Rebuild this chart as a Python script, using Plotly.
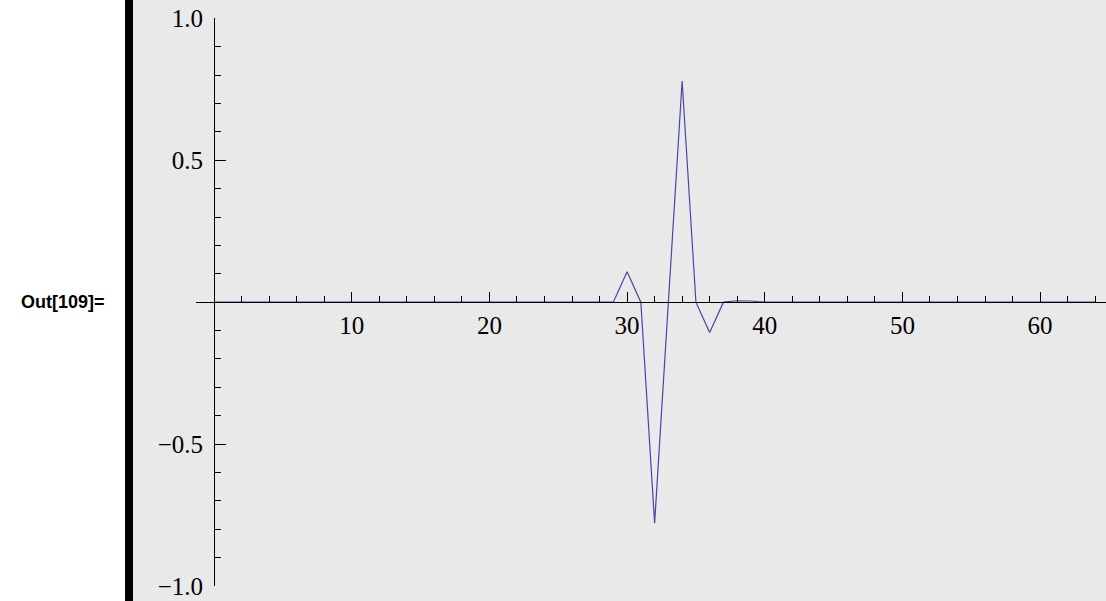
import plotly.graph_objects as go

# Data: sample index and value (wavelet-like coefficients)
x_vals = list(range(0, 65))
y_vals = [0.0] * 65
nonzero = {29: 0.0, 30: 0.107, 31: 0.0, 32: -0.779, 33: 0.0, 34: 0.779,
           35: 0.0, 36: -0.107, 37: 0.0, 38: 0.005, 39: 0.004, 40: 0.0}
for k, v in nonzero.items():
    y_vals[k] = v

x_tick_vals = [10, 20, 30, 40, 50, 60]
x_tick_text = ["10", "20", "30", "40", "50", "60"]
y_tick_vals = [-1.0, -0.5, 0.5, 1.0]
y_tick_text = ["\u22121.0", "\u22120.5", "0.5", "1.0"]

W, H = 1106, 601
# pixel geometry
x0_px = 214.1          # pixel of x = 0
x_scale = 13.766       # px per unit
xdom_left_px = 196
y_top_px, y_bot_px = 18.3, 586.0
y_zero_px = (y_top_px + y_bot_px) / 2

x_range = [(xdom_left_px - x0_px) / x_scale, (W - x0_px) / x_scale]

fig = go.Figure()
fig.add_trace(go.Scatter(
    x=x_vals, y=y_vals, mode="lines",
    line=dict(color="#4646a8", width=1.2),
    hoverinfo="skip", showlegend=False,
))

tick_font = dict(family="Liberation Serif, Times New Roman, serif", size=25, color="black")

fig.update_layout(
    width=W, height=H,
    margin=dict(l=0, r=0, t=0, b=0, pad=0),
    paper_bgcolor="white",
    plot_bgcolor="rgba(0,0,0,0)",
    showlegend=False,
    xaxis=dict(
        domain=[xdom_left_px / W, 1.0],
        range=x_range,
        anchor="free",
        position=(H - y_zero_px) / H,
        automargin=False,
        showgrid=False, zeroline=False,
        showline=True, linecolor="black", linewidth=1,
        ticks="inside", ticklen=10, tickwidth=1, tickcolor="black",
        tickvals=x_tick_vals, ticktext=x_tick_text,
        tickfont=tick_font,
        ticklabelstandoff=1,
        minor=dict(ticks="inside", ticklen=6, tickwidth=1, tickcolor="black",
                   tick0=0, dtick=2, showgrid=False),
        fixedrange=True,
    ),
    yaxis=dict(
        domain=[(H - y_bot_px) / H, (H - y_top_px) / H],
        range=[-1, 1],
        anchor="free",
        position=x0_px / W,
        automargin=False,
        showgrid=False, zeroline=False,
        showline=True, linecolor="black", linewidth=1,
        ticks="inside", ticklen=11, tickwidth=1, tickcolor="black",
        tickvals=y_tick_vals, ticktext=y_tick_text,
        tickfont=tick_font,
        ticklabelstandoff=6,
        minor=dict(ticks="inside", ticklen=6, tickwidth=1, tickcolor="black",
                   tick0=0, dtick=0.1, showgrid=False),
        fixedrange=True,
    ),
    shapes=[
        dict(type="rect", xref="paper", yref="paper",
             x0=133 / W, x1=1.0, y0=0, y1=1,
             fillcolor="#e9e9e9", line=dict(width=0), layer="below"),
        dict(type="rect", xref="paper", yref="paper",
             x0=125 / W, x1=133 / W, y0=0, y1=1,
             fillcolor="black", line=dict(width=0), layer="below"),
    ],
    annotations=[
        dict(text="<b>Out[109]=</b>", xref="paper", yref="paper",
             x=107 / W, y=(H - 302) / H, xanchor="right", yanchor="middle",
             showarrow=False,
             font=dict(family="Liberation Sans, Arial, Helvetica, sans-serif",
                       size=18, color="black")),
    ],
)

fig.write_html(
    "out.html",
    config={"displayModeBar": False},
    post_script="document.body.style.margin='0';document.body.style.overflow='hidden';",
)
